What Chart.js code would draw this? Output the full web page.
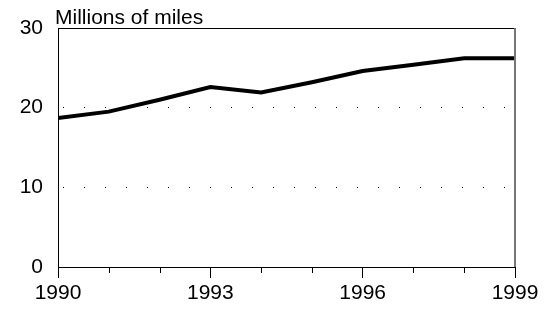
<!DOCTYPE html>
<html>
<head>
<meta charset="utf-8">
<script src="https://cdn.jsdelivr.net/npm/chart.js@4/dist/chart.umd.min.js"></script>
<style>
  html, body { margin: 0; padding: 0; background: #fff; }
  #wrap { width: 548px; height: 309px; }
</style>
</head>
<body>
<div id="wrap"><canvas id="chartCanvas"></canvas></div>
<script>
const years = [1990, 1991, 1992, 1993, 1994, 1995, 1996, 1997, 1998, 1999];
const miles = [18.7, 19.5, 21.0, 22.6, 21.9, 23.2, 24.6, 25.4, 26.2, 26.2];
const labeledYears = [1990, 1993, 1996, 1999];
const yTicks = [0, 10, 20, 30];
const unitLabel = "Millions of miles";

const fontName = "'Liberation Sans', Arial, sans-serif";

// frame, minor x ticks and the unit label
const extras = {
    id: 'extras',
    afterDraw(chart) {
        const ctx = chart.ctx;
        const a = chart.chartArea;
        const xs = chart.scales.x;
        ctx.save();
        ctx.strokeStyle = '#000';
        ctx.lineWidth = 1;
        ctx.beginPath();
        ctx.moveTo(a.left, a.top + 0.5);
        ctx.lineTo(a.right, a.top + 0.5);
        ctx.stroke();
        ctx.strokeStyle = '#777';
        ctx.lineWidth = 2;
        ctx.beginPath();
        ctx.moveTo(a.right, a.top);
        ctx.lineTo(a.right, a.bottom);
        ctx.stroke();
        ctx.strokeStyle = '#000';
        ctx.lineWidth = 1;
        for (const yr of years) {
            if (labeledYears.includes(yr)) continue;
            const px = Math.round(xs.getPixelForValue(yr)) + 0.5;
            ctx.beginPath();
            ctx.moveTo(px, a.bottom);
            ctx.lineTo(px, a.bottom + 6);
            ctx.stroke();
        }
        ctx.fillStyle = '#000';
        ctx.font = '21px ' + fontName;
        ctx.textAlign = 'left';
        ctx.textBaseline = 'alphabetic';
        ctx.fillText(unitLabel, a.left - 3, a.top - 4);
        ctx.restore();
    }
};

let myChart;

function NewChart(){
    myChart = new Chart(document.getElementById('chartCanvas'), {
        type: 'line',
        data: {
            datasets: [{
                label: unitLabel,
                data: years.map((y, i) => ({x: y, y: miles[i]})),
                borderColor: '#000',
                borderWidth: 4,
                pointRadius: 0,
                tension: 0,
                fill: false
            }]
        },
        options: {
            responsive: true,
            maintainAspectRatio: false,
            animation: false,
            layout: { padding: { top: 28, right: 33, left: 0, bottom: 0 } },
            plugins: { legend: { display: false }, tooltip: { enabled: false }, title: { display: false } },
            scales: {
                x: {
                    type: 'linear',
                    min: 1990,
                    max: 1999,
                    afterBuildTicks: (scale) => { scale.ticks = labeledYears.map(v => ({value: v})); },
                    afterFit: (scale) => { scale.height = 42; },
                    ticks: {
                        color: '#000',
                        font: { family: fontName, size: 21 },
                        padding: 3,
                        maxRotation: 0,
                        callback: (v) => String(v)
                    },
                    grid: { display: true, drawOnChartArea: false, drawTicks: true, tickLength: 11, tickColor: '#000' },
                    border: { display: true, color: '#000', width: 1 }
                },
                y: {
                    min: 0,
                    max: 30,
                    afterBuildTicks: (scale) => { scale.ticks = yTicks.map(v => ({value: v})); },
                    afterFit: (scale) => { scale.width = 58; },
                    ticks: {
                        color: '#000',
                        font: { family: fontName, size: 21 },
                        padding: 15
                    },
                    grid: {
                        drawTicks: false,
                        color: (c) => (c.tick && (c.tick.value === 10 || c.tick.value === 20)) ? '#000' : 'rgba(0,0,0,0)',
                        lineWidth: 1
                    },
                    border: { display: true, color: '#000', width: 1, dash: [1, 20], dashOffset: -4 }
                }
            }
        },
        plugins: [extras]
    });
}

NewChart();
</script>
</body>
</html>
